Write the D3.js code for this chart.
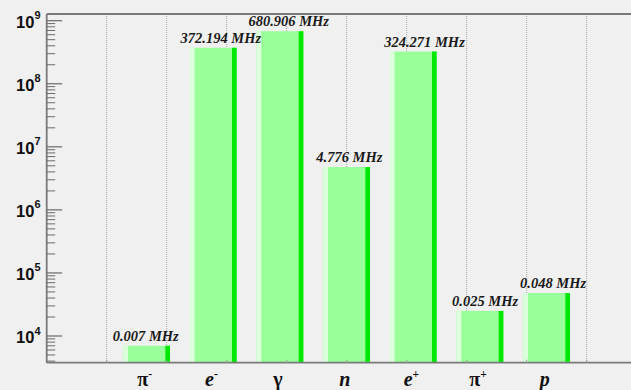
<!DOCTYPE html>
<html>
<head>
<meta charset="utf-8">
<script src="https://cdn.jsdelivr.net/npm/d3@7"></script>
<style>
  html, body { margin: 0; padding: 0; background: #f0f0f0; overflow: hidden; }
  svg { display: block; }
</style>
</head>
<body>
<svg id="chart" width="631" height="390"></svg>
<script>
// Particle species, their charge superscripts and the measured rates (MHz)
const particleSymbols = ["π", "e", "γ", "n", "e", "π", "p"];
const particleCharges = ["-", "-", "", "", "+", "+", ""];
const rateMHz = [0.007, 372.194, 680.906, 4.776, 324.271, 0.025, 0.048];
const decadeExponents = [4, 5, 6, 7, 8, 9];

const W = 631, H = 390;
const frame = { left: 46.7, right: 646.7, top: 14, bottom: 362.7 };
const nBins = 9, firstBin = 1;
const barOffset = 0.15, barWidth = 0.7;

const svg = d3.select("#chart");
svg.append("rect").attr("width", W).attr("height", H).attr("fill", "#f0f0f0");

// Scales: bins along x, log rate (Hz) along y
const x = d3.scaleLinear().domain([0, nBins]).range([frame.left, frame.right]);
const y = d3.scaleLog().domain([1e4, 1e9]).range([336, 20.7]);
const gridX = d3.scaleLinear().domain([0, 10]).range([frame.left, frame.right]);
const labelX = d3.scaleLinear().domain([0, rateMHz.length - 1]).range([112.7, 520]);

// Vertical dotted grid
svg.append("g").selectAll("line")
  .data(d3.range(1, 10))
  .join("line")
  .attr("x1", d => gridX(d)).attr("x2", d => gridX(d))
  .attr("y1", frame.top).attr("y2", frame.bottom)
  .attr("stroke", "#a8a8a8").attr("stroke-width", 1)
  .attr("stroke-dasharray", "1,1");

// Bars with a light left edge and a bright right edge
svg.append("g").selectAll("g")
  .data(rateMHz)
  .join("g")
  .each(function (v, i) {
    const bin = firstBin + i;
    const x0 = x(bin + barOffset), x1 = x(bin + barOffset + barWidth);
    const w = x1 - x0, edge = w * 0.1;
    const top = y(v * 1e6), h = frame.bottom - top;
    const g = d3.select(this);
    g.append("rect").attr("x", x0).attr("y", top).attr("width", w).attr("height", h).attr("fill", "#99ff99");
    g.append("rect").attr("x", x0).attr("y", top).attr("width", edge).attr("height", h).attr("fill", "#dcffdc");
    g.append("rect").attr("x", x1 - edge).attr("y", top).attr("width", edge).attr("height", h).attr("fill", "#00e800");
  });

// Value labels above bars
svg.append("g").selectAll("text")
  .data(rateMHz)
  .join("text")
  .attr("x", (v, i) => labelX(i))
  .attr("y", v => y(v * 1e6) - 5)
  .attr("font-family", "'Liberation Serif', 'Times New Roman', serif")
  .attr("font-weight", "bold").attr("font-style", "italic")
  .attr("font-size", 14.5).attr("fill", "#1a1a1a")
  .text(v => d3.format(".3f")(v) + " MHz");

// Frame lines
const axisColor = "#7a7a7a";
svg.append("line").attr("x1", frame.left).attr("x2", frame.right)
  .attr("y1", frame.top).attr("y2", frame.top).attr("stroke", axisColor).attr("stroke-width", 1.8);
svg.append("line").attr("x1", frame.left).attr("x2", frame.left)
  .attr("y1", frame.top).attr("y2", frame.bottom).attr("stroke", axisColor).attr("stroke-width", 1.8);
svg.append("line").attr("x1", frame.left).attr("x2", frame.right)
  .attr("y1", frame.bottom).attr("y2", frame.bottom).attr("stroke", axisColor).attr("stroke-width", 1.8);

// Small x-axis ticks at the grid positions
svg.append("g").selectAll("line")
  .data(d3.range(1, 10))
  .join("line")
  .attr("x1", d => gridX(d)).attr("x2", d => gridX(d))
  .attr("y1", frame.bottom).attr("y2", frame.bottom - 3)
  .attr("stroke", "#a0a0a0").attr("stroke-width", 1);

// Log y-axis ticks: major at decades, minor at 2..9
const yMin = y.invert(frame.bottom), yMax = y.invert(frame.top);
const minorVals = [];
for (let e = 3; e <= 9; e++) for (let m = 2; m <= 9; m++) {
  const v = m * Math.pow(10, e);
  if (v >= yMin && v <= yMax) minorVals.push(v);
}
svg.append("g").selectAll("line")
  .data(minorVals)
  .join("line")
  .attr("x1", frame.left).attr("x2", frame.left + 8.5)
  .attr("y1", d => y(d)).attr("y2", d => y(d))
  .attr("stroke", "#6a6a6a").attr("stroke-width", 1);
svg.append("g").selectAll("line")
  .data(decadeExponents)
  .join("line")
  .attr("x1", frame.left).attr("x2", frame.left + 15.5)
  .attr("y1", d => y(Math.pow(10, d))).attr("y2", d => y(Math.pow(10, d)))
  .attr("stroke", "#6a6a6a").attr("stroke-width", 1.2);

// Decade labels 10^n
const yLab = svg.append("g").selectAll("text")
  .data(decadeExponents)
  .join("text")
  .attr("x", 40.5)
  .attr("y", d => y(Math.pow(10, d)) + 7)
  .attr("text-anchor", "end")
  .attr("font-family", "'Liberation Sans', Arial, sans-serif")
  .attr("font-weight", "bold").attr("font-size", 16.5).attr("fill", "#111");
yLab.append("tspan").text("10");
yLab.append("tspan").attr("dy", -8.5).attr("font-size", 11).text(d => d);

// Category labels under each bin
const cat = svg.append("g").selectAll("text")
  .data(particleSymbols)
  .join("text")
  .attr("x", (s, i) => x(firstBin + i + 0.5) - 2)
  .attr("y", 386)
  .attr("text-anchor", "middle")
  .attr("font-family", "'Liberation Serif', 'Times New Roman', serif")
  .attr("font-weight", "bold").attr("font-size", 20).attr("fill", "#111");
cat.append("tspan")
  .attr("font-style", s => /[a-z]/.test(s) ? "italic" : "normal")
  .text(s => s);
cat.append("tspan")
  .attr("dy", -8.5).attr("font-size", 11.5)
  .text((s, i) => particleCharges[i]);
</script>
</body>
</html>
